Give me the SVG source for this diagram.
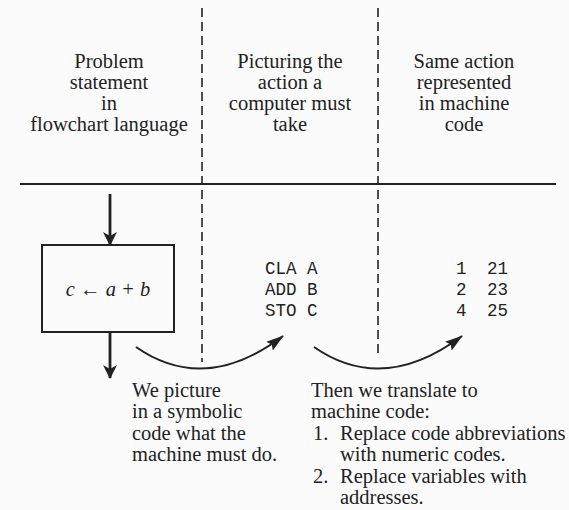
<svg xmlns="http://www.w3.org/2000/svg" width="569" height="510" viewBox="0 0 569 510">
<style>
.t{font-family:"Liberation Serif","DejaVu Serif","Times New Roman",serif;font-size:20.5px;fill:#222}
.m{font-family:"Liberation Mono","Courier New",monospace;font-size:17.5px;fill:#222}
.dash{stroke:#222;stroke-width:1.6;stroke-dasharray:9,5;fill:none}
.ln{stroke:#222;stroke-width:2;fill:none}
.arr{stroke:#222;stroke-width:2.8;fill:none}
</style>
<defs>
<marker id="ah" viewBox="0 0 14 14" refX="13" refY="7" markerWidth="14" markerHeight="14" markerUnits="userSpaceOnUse" orient="auto">
<path d="M0,0 L14,7 L0,14 L4,7 z" fill="#222"/>
</marker>
<marker id="ac" viewBox="0 0 18 11" refX="17" refY="5.5" markerWidth="18" markerHeight="11" markerUnits="userSpaceOnUse" orient="auto">
<path d="M0,0 L18,5.5 L0,11 L3,5.5 z" fill="#222"/>
</marker>
</defs>
<rect width="569" height="510" fill="#fbfbfb"/>
<g id="columns">
<line class="dash" x1="202" y1="8" x2="202" y2="362"/>
<line class="dash" x1="378" y1="8" x2="378" y2="356"/>
<line class="ln" x1="20" y1="184" x2="556" y2="184"/>
</g>
<g id="headers" class="t" text-anchor="middle">
<text x="109" y="68">Problem</text>
<text x="109" y="89">statement</text>
<text x="109" y="110">in</text>
<text x="109" y="131">flowchart language</text>
<text x="290" y="68">Picturing the</text>
<text x="290" y="89">action a</text>
<text x="290" y="110">computer must</text>
<text x="290" y="131">take</text>
<text x="464" y="68">Same action</text>
<text x="464" y="89">represented</text>
<text x="464" y="110">in machine</text>
<text x="464" y="131">code</text>
</g>
<g id="box">
<rect x="42" y="245" width="132" height="87" fill="none" stroke="#222" stroke-width="2"/>
<text class="t" x="108" y="296" text-anchor="middle" font-style="italic">c ← a + b</text>
</g>
<g id="symbolic" class="m">
<text x="265" y="274">CLA A</text>
<text x="265" y="295">ADD B</text>
<text x="265" y="316">STO C</text>
</g>
<g id="machine" class="m">
<text x="456" y="274">1</text><text x="487" y="274">21</text>
<text x="456" y="295">2</text><text x="487" y="295">23</text>
<text x="456" y="316">4</text><text x="487" y="316">25</text>
</g>
<g id="connectors">
<line class="arr" x1="110" y1="194" x2="110" y2="245" marker-end="url(#ah)"/>
<line class="arr" x1="110" y1="332" x2="110" y2="378" marker-end="url(#ah)"/>
<path class="ln" d="M136,347 Q205,395 283,336" marker-end="url(#ac)"/>
<path class="ln" d="M314,347 Q383,395 462,336" marker-end="url(#ac)"/>
</g>
<g id="note1" class="t">
<text x="132" y="397">We picture</text>
<text x="132" y="418">in a symbolic</text>
<text x="132" y="440">code what the</text>
<text x="132" y="461">machine must do.</text>
</g>
<g id="note2" class="t">
<text x="311" y="397">Then we translate to</text>
<text x="311" y="418">machine code:</text>
<text x="313" y="440">1.</text>
<text x="340" y="440">Replace code abbreviations</text>
<text x="340" y="461">with numeric codes.</text>
<text x="313" y="483">2.</text>
<text x="340" y="483">Replace variables with</text>
<text x="340" y="504">addresses.</text>
</g>
</svg>
